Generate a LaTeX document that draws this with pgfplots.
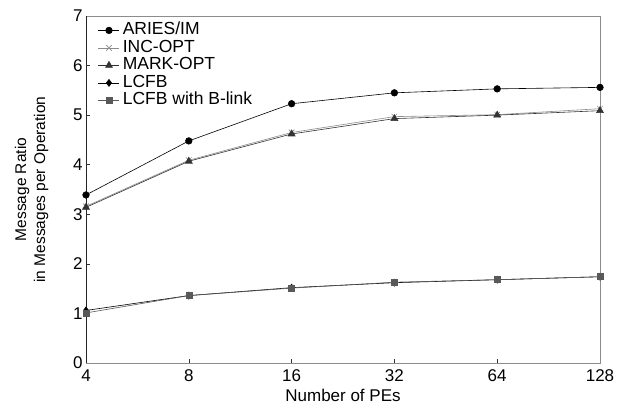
\documentclass[border=0pt]{standalone}
\usepackage{pgfplots}
\pgfplotsset{compat=1.18}
\usepackage{fontspec}
\setmainfont{Liberation Sans}
\begin{document}
\begin{tikzpicture}
\begin{axis}[
  scale only axis, width=514pt, height=347pt,
  xmin=0, xmax=5, ymin=0, ymax=7,
  xtick={0,1,2,3,4,5}, xticklabels={4,8,16,32,64,128},
  ytick={0,1,2,3,4,5,6,7},
  tick align=inside, xtick pos=bottom, ytick pos=left,
  major tick length=4pt,
  tick style={black!80, line width=0.5pt},
  axis line style={black!45, line width=0.9pt},
  ticklabel style={font=\fontsize{17}{20}\selectfont},
  xticklabel style={yshift=-3pt},
  /pgf/number format/assume math mode=true,
  xlabel={Number of PEs},
  xlabel style={font=\fontsize{17}{20}\selectfont, at={(axis description cs:0.5,0)}, anchor=base, yshift=-39pt},
  ylabel={Message Ratio\\in Messages per Operation},
  ylabel style={font=\fontsize{15.5}{19}\selectfont, align=center, at={(axis description cs:-0.106,0.5)}, anchor=center},
  legend style={at={(axis description cs:0.0175,0.99)}, anchor=north west, draw=none, fill=none,
    font=\fontsize{17.5}{17}\selectfont, row sep=0pt, column sep=2pt,
    nodes={inner sep=1pt, text height=12pt, text depth=3.5pt}},
  legend cell align=left,
  legend image code/.code={\draw[#1] (0pt,0pt) -- (21pt,0pt); \draw[#1, mark repeat=2, mark phase=2] plot coordinates {(0pt,0pt) (10.5pt,0pt) (21pt,0pt)};},
]
\addplot[black, line width=0.6pt, mark=*, mark size=3.3pt, mark options={solid, fill=black}]
  coordinates {(0,3.39) (1,4.48) (2,5.23) (3,5.45) (4,5.53) (5,5.56)};
\addlegendentry{ARIES/IM}
\addplot[gray!90, line width=0.6pt, mark=x, mark size=4pt, mark options={solid}]
  coordinates {(0,3.16) (1,4.09) (2,4.65) (3,4.97) (4,5.01) (5,5.13)};
\addlegendentry{INC-OPT}
\addplot[black!80, line width=0.6pt, mark=triangle*, mark size=4pt, mark options={solid, fill=black!80}]
  coordinates {(0,3.14) (1,4.07) (2,4.62) (3,4.93) (4,5.00) (5,5.09)};
\addlegendentry{MARK-OPT}
\addplot[black, line width=0.6pt, mark=diamond*, mark size=3.5pt, mark options={solid, fill=black}]
  coordinates {(0,1.06) (1,1.36) (2,1.52) (3,1.62) (4,1.68) (5,1.74)};
\addlegendentry{LCFB}
\addplot[black!65, line width=0.6pt, mark=square*, mark size=3pt, mark options={solid, fill=black!65}]
  coordinates {(0,1.01) (1,1.36) (2,1.51) (3,1.63) (4,1.68) (5,1.74)};
\addlegendentry{LCFB with B-link}
\draw[black!85, line width=0.9pt] (rel axis cs:0,1) -- (rel axis cs:0,0) -- (rel axis cs:1,0);
\end{axis}
\pgfresetboundingbox
\path ([shift={(-86pt,-48pt)}]current axis.south west) rectangle ([shift={(24pt,16pt)}]current axis.north east);
\end{tikzpicture}
\end{document}
